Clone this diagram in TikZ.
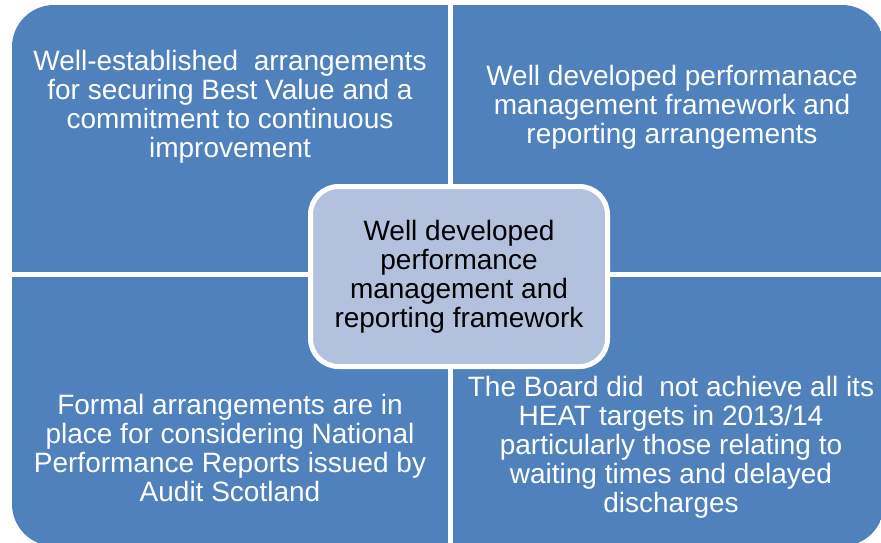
\documentclass[tikz,border=0pt]{standalone}
\usepackage{fontspec}
\setmainfont{Liberation Sans}
\usetikzlibrary{positioning}
\definecolor{quadblue}{RGB}{79,129,189}
\definecolor{coreblue}{RGB}{178,194,222}

\begin{document}
\begin{tikzpicture}
[x=1pt, y=-1pt,
 quad/.style={fill=quadblue},
 txt/.style={text=white, align=center, inner sep=0pt, font=\fontsize{28}{29}\selectfont},
 core/.style={rectangle, rounded corners=28pt, fill=coreblue, draw=white, line width=5pt,
   minimum width=297pt, minimum height=180pt, inner sep=0pt, align=center,
   font=\fontsize{28}{29}\selectfont}]

\clip (0,0) rectangle (881,543);

% four quadrants cut out of one rounded outline
\begin{scope}
  \clip [rounded corners=42pt] (12,5) rectangle (884,546);
  \fill [quad] (12,5) rectangle (448,272);
  \fill [quad] (453,5) rectangle (884,272);
  \fill [quad] (12,277) rectangle (448,546);
  \fill [quad] (453,277) rectangle (884,546);
\end{scope}

% quadrant texts
\node[txt] (tl) at (230,107) {Well-established\ \ arrangements\\ for securing Best Value and a\\ commitment to continuous\\ improvement};
\node[txt] (tr) at (672,107) {Well developed performanace\\ management framework and\\ reporting arrangements};
\node[txt] (bl) at (230,448) {Formal arrangements are in\\ place for considering National\\ Performance Reports issued by\\ Audit Scotland};
\node[txt] (br) at (671,447.5) {The Board did\ \ not achieve all its\\ HEAT targets in 2013/14\\ particularly those relating to\\ waiting times and delayed\\ discharges};

% central box
\node[core] (hub) at (459,276.5) {Well developed\\ performance\\ management and\\ reporting framework};

\end{tikzpicture}
\end{document}
